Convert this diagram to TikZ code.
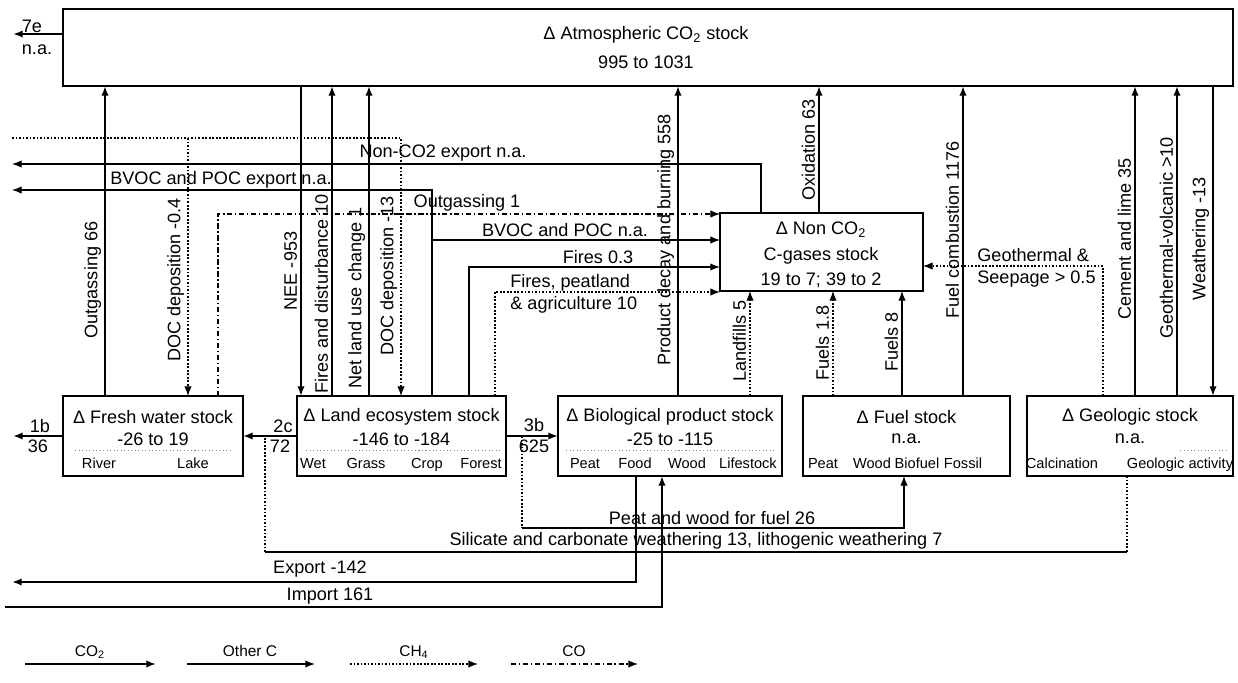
\documentclass[tikz,border=0pt]{standalone}
\usepackage{fontspec}
\setmainfont{Liberation Sans}
\usetikzlibrary{arrows.meta}
\begin{document}
\begin{tikzpicture}[x=0.02cm,y=-0.02cm,
  box/.style={draw, line width=0.9pt, inner sep=0pt, outer sep=0pt},
  txt/.style={inner sep=0pt, font=\fontsize{10.3}{12.5}\selectfont},
  sub/.style={inner sep=0pt, anchor=base, font=\fontsize{8.3}{10}\selectfont},
  vlab/.style={rotate=90, anchor=south, inner sep=2pt, font=\fontsize{10.3}{12}\selectfont},
  arr/.style={-{Latex[length=5.5pt,width=4.2pt]}},
  co2/.style={line width=1.1pt},
  othc/.style={line width=0.6pt},
  ch4/.style={line width=0.6pt, dash pattern=on 1pt off 1pt},
  cof/.style={line width=0.6pt, dash pattern=on 3pt off 1.5pt on 0.8pt off 1.5pt},
  sepl/.style={gray, line width=0.4pt, dash pattern=on 0.6pt off 1.4pt},
  lgt/.style={inner sep=0pt, font=\fontsize{8.8}{10}\selectfont}
]
\useasboundingbox (0,0) rectangle (1238,683);

% ---------- boxes ----------
\node[box, minimum width=23.4cm, minimum height=1.54cm] (atm) at (648,47.5) {};
\node[box, minimum width=4.06cm, minimum height=1.56cm] (nonco2) at (821.5,252) {};
\node[box, minimum width=3.6cm, minimum height=1.6cm] (fresh) at (153,436) {};
\node[box, minimum width=4.18cm, minimum height=1.6cm] (land) at (401.5,436) {};
\node[box, minimum width=4.48cm, minimum height=1.6cm] (bio) at (670,436) {};
\node[box, minimum width=4.14cm, minimum height=1.6cm] (fuel) at (906.5,436) {};
\node[box, minimum width=4.12cm, minimum height=1.6cm] (geo) at (1130,436) {};

% ---------- box texts ----------
\node[txt] (atmT) at (646,35) {Δ Atmospheric CO\textsubscript{2} stock};
\node[txt] (atmV) at (646,62) {995 to 1031};
\node[txt] (ncT1) at (821,230) {Δ Non CO\textsubscript{2}};
\node[txt] (ncT2) at (821,256) {C-gases stock};
\node[txt] (ncT3) at (821,280) {19 to 7; 39 to 2};

\node[txt] (frT) at (153,417) {Δ Fresh water stock};
\node[txt] (frV) at (153,439) {-26 to 19};
\node[sub] (frA) at (99,468) {River};
\node[sub] (frB) at (193,468) {Lake};

\node[txt] (laT) at (401.5,417) {Δ Land ecosystem stock};
\node[txt] (laV) at (401.5,439) {-146 to -184};
\node[sub] (laA) at (313,468) {Wet};
\node[sub] (laB) at (366,468) {Grass};
\node[sub] (laC) at (427,468) {Crop};
\node[sub] (laD) at (481,468) {Forest};

\node[txt] (biT) at (670,417) {Δ Biological product stock};
\node[txt] (biV) at (670,439) {-25 to -115};
\node[sub] (biA) at (585,468) {Peat};
\node[sub] (biB) at (635,468) {Food};
\node[sub] (biC) at (687,468) {Wood};
\node[sub] (biD) at (748,468) {Lifestock};

\node[txt] (fuT) at (906.5,417) {Δ Fuel stock};
\node[txt] (fuV) at (906.5,439) {n.a.};
\node[sub] (fuA) at (823,468) {Peat};
\node[sub] (fuB) at (872,468) {Wood};
\node[sub] (fuC) at (917,468) {Biofuel};
\node[sub] (fuD) at (963,468) {Fossil};

\node[txt] (geT) at (1130,417) {Δ Geologic stock};
\node[txt] (geV) at (1130,439) {n.a.};
\node[sub] (geA) at (1062,468) {Calcination};
\node[sub] (geB) at (1180,468) {Geologic activity};

% separators
\draw[sepl] (75,450) -- (232,450);
\draw[sepl] (306,450) -- (500,450);
\draw[sepl] (566,450) -- (776,450);
\draw[sepl] (1180,450) -- (1228,450);

% ---------- x positions of connectors ----------
\coordinate (xo66) at (105,0);
\coordinate (xd04) at (188,0);
\coordinate (xo1) at (218,0);
\coordinate (xnee) at (301,0);
\coordinate (xfd) at (332,0);
\coordinate (xlu) at (369,0);
\coordinate (xd13) at (401,0);
\coordinate (xbv) at (432,0);
\coordinate (xf03) at (469,0);
\coordinate (xfp) at (495,0);
\coordinate (xpd) at (678,0);
\coordinate (xlf) at (750,0);
\coordinate (xnce) at (761,0);
\coordinate (xox) at (819,0);
\coordinate (xf18) at (833,0);
\coordinate (xf8) at (902,0);
\coordinate (xfc) at (963,0);
\coordinate (xgs) at (1103,0);
\coordinate (xcl) at (1135,0);
\coordinate (xgv) at (1177,0);
\coordinate (xwe) at (1213,0);
\coordinate (xex) at (636,0);
\coordinate (xim) at (662,0);
\coordinate (xpw) at (904,0);

% y positions
\coordinate (y7e) at (0,34);
\coordinate (yog1) at (0,214);
\coordinate (ybv) at (0,240);
\coordinate (yf03) at (0,267);
\coordinate (yfp) at (0,292);
\coordinate (ygs) at (0,266);
\coordinate (yfl) at (0,436);

% free ends
\coordinate (c7e) at (13,34);
\coordinate (docL) at (12,138);
\coordinate (ncL) at (12,164);
\coordinate (bvL) at (12,190);
\coordinate (c1b) at (13,436);
\coordinate (exL) at (12,582);
\coordinate (imL) at (5,607);

% ---------- CO2 verticals ----------
\draw[co2,arr] (fresh.north -| xo66) -- (atm.south -| xo66);
\draw[co2,arr] (atm.south -| xnee) -- (land.north -| xnee);
\draw[co2,arr] (land.north -| xfd) -- (atm.south -| xfd);
\draw[co2,arr] (land.north -| xlu) -- (atm.south -| xlu);
\draw[co2,arr] (bio.north -| xpd) -- (atm.south -| xpd);
\draw[co2,arr] (nonco2.north -| xox) -- (atm.south -| xox);
\draw[co2,arr] (fuel.north -| xfc) -- (atm.south -| xfc);
\draw[co2,arr] (geo.north -| xcl) -- (atm.south -| xcl);
\draw[co2,arr] (geo.north -| xgv) -- (atm.south -| xgv);
\draw[co2,arr] (atm.south -| xwe) -- (geo.north -| xwe);
\draw[co2,arr] (atm.west |- y7e) -- (c7e);

% ---------- other lines ----------
\draw[ch4,arr] (docL) -| (land.north -| xd13);
\draw[ch4,arr] (docL -| xd04) -- (fresh.north -| xd04);
\draw[othc,arr] (nonco2.north -| xnce) |- (ncL);
\draw[othc,arr] (land.north -| xbv) |- (bvL);
\draw[othc,arr] (xbv |- ybv) -- (nonco2.west |- ybv);
\draw[cof,arr] (fresh.north -| xo1) |- (nonco2.west |- yog1);
\draw[othc,line width=0.9pt,arr] (land.north -| xf03) |- (nonco2.west |- yf03);
\draw[ch4,arr] (land.north -| xfp) |- (nonco2.west |- yfp);
\draw[ch4,arr] (bio.north -| xlf) -- (nonco2.south -| xlf);
\draw[ch4,arr] (fuel.north -| xf18) -- (nonco2.south -| xf18);
\draw[othc,arr] (fuel.north -| xf8) -- (nonco2.south -| xf8);
\draw[ch4,arr] (geo.north -| xgs) |- (nonco2.east |- ygs);

% horizontal flows between stocks
\draw[co2,arr] (fresh.west |- yfl) -- (c1b);
\draw[co2,arr] (land.west |- yfl) -- (fresh.east |- yfl);
\draw[co2,arr] (land.east |- yfl) -- (bio.west |- yfl);

% peat and wood for fuel
\coordinate (pw1) at (522,436);
\coordinate (pw2) at (522,528);
\draw[ch4] (pw1) -- (pw2);
\draw[othc,arr] (pw2) -| (fuel.south -| xpw);

% silicate weathering
\coordinate (si1) at (265,436);
\coordinate (si2) at (265,552);
\coordinate (si3) at (1127,552);
\draw[ch4] (geo.south -| si3) -- (si3);
\draw[othc] (si3) -- (si2);
\draw[ch4] (si2) -- (si1);

% export / import
\draw[co2,arr] (bio.south -| xex) |- (exL);
\draw[co2,arr] (imL) -| (bio.south -| xim);

% ---------- labels ----------
\node[txt] (l7e) at (32,26) {7e};
\node[txt] (l7eb) at (37,50) {n.a.};
\node[txt] (l1b) at (40,426) {1b};
\node[txt] (l1bb) at (38,446) {36};
\node[txt] (l2c) at (283,426) {2c};
\node[txt] (l2cb) at (280,446) {72};
\node[txt] (l3b) at (534,425) {3b};
\node[txt] (l3bb) at (534,446) {625};

\node[vlab] (v1) at (105,280) {Outgassing 66};
\node[vlab] (v2) at (188,280) {DOC deposition -0.4};
\node[vlab] (v3) at (301,271) {NEE -953};
\node[vlab] (v4) at (332,294) {Fires and disturbance 10};
\node[vlab] (v5) at (369,298) {Net land use change 1};
\node[vlab] (v6) at (401,276) {DOC deposition -13};
\node[vlab] (v7) at (678,240) {Product decay and burning 558};
\node[vlab] (v8) at (750,341) {Landfills 5};
\node[vlab] (v9) at (819,150) {Oxidation 63};
\node[vlab] (v10) at (833,343) {Fuels 1.8};
\node[vlab] (v11) at (902,342) {Fuels 8};
\node[vlab] (v12) at (963,230) {Fuel combustion 1176};
\node[vlab] (v13) at (1135,239) {Cement and lime 35};
\node[vlab] (v14) at (1177,238) {Geothermal-volcanic >10};
\node[vlab] (v15) at (1213,239) {Weathering -13};

\node[txt] (h1) at (443,153) {Non-CO2 export n.a.};
\node[txt] (h2) at (221,180) {BVOC and POC export n.a.};
\node[txt] (h3) at (467,203) {Outgassing 1};
\node[txt] (h4) at (565,230) {BVOC and POC n.a.};
\node[txt] (h5) at (598,257) {Fires 0.3};
\node[txt, align=left, anchor=west] (h6) at (510,294) {Fires, peatland\\\& agriculture 10};
\node[txt, align=left, anchor=west] (h7) at (977,268) {Geothermal \&\\Seepage > 0.5};
\node[txt] (h8) at (712,518) {Peat and wood for fuel 26};
\node[txt] (h9) at (696,541) {Silicate and carbonate weathering 13, lithogenic weathering 7};
\node[txt] (h10) at (320,569) {Export -142};
\node[txt] (h11) at (330,596) {Import 161};

% ---------- legend ----------
\coordinate (lg1a) at (25,664); \coordinate (lg1b) at (156,664);
\coordinate (lg2a) at (187,664); \coordinate (lg2b) at (315,664);
\coordinate (lg3a) at (350,664); \coordinate (lg3b) at (478,664);
\coordinate (lg4a) at (511,664); \coordinate (lg4b) at (638,664);
\draw[co2,arr] (lg1a) -- (lg1b);
\draw[othc,line width=0.8pt,arr] (lg2a) -- (lg2b);
\draw[ch4,arr] (lg3a) -- (lg3b);
\draw[cof,arr] (lg4a) -- (lg4b);
\node[lgt, anchor=base] (lgt1) at (90,656) {CO\textsubscript{2}};
\node[lgt, anchor=base] (lgt2) at (250,656) {Other C};
\node[lgt, anchor=base] (lgt3) at (414,656) {CH\textsubscript{4}};
\node[lgt, anchor=base] (lgt4) at (574,656) {CO};
\end{tikzpicture}
\end{document}
